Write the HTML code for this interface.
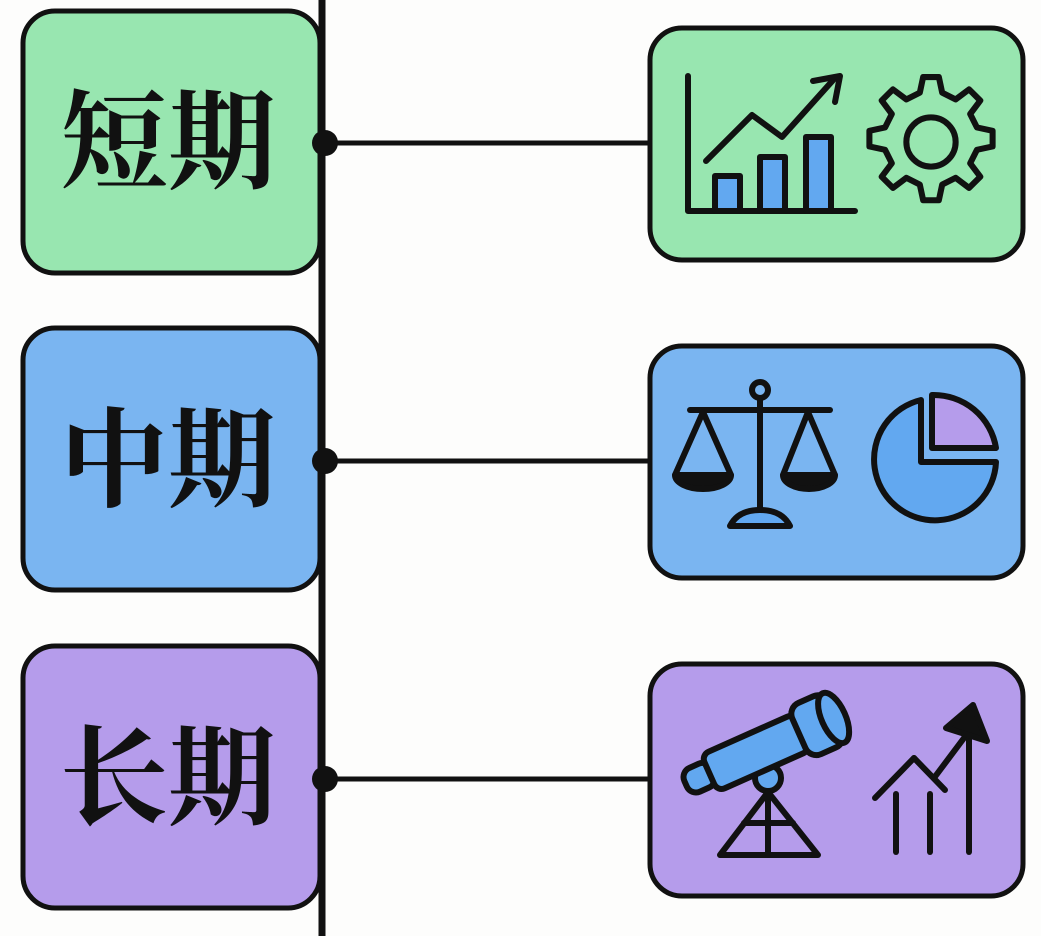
<!DOCTYPE html>
<html><head><meta charset="utf-8"><style>
html,body{margin:0;padding:0;background:#fdfdfc;}
svg{display:block}
</style></head><body>
<svg width="1041" height="936" viewBox="0 0 1041 936" xmlns="http://www.w3.org/2000/svg">
<g stroke="#111" stroke-width="5">
<rect x="23" y="11" width="297" height="262" rx="32" fill="#98e6b0"/>
<rect x="23" y="328" width="297" height="262" rx="32" fill="#7ab5f1"/>
<rect x="23" y="646" width="297" height="262" rx="32" fill="#b59ceb"/>
<rect x="650" y="28" width="373" height="232" rx="32" fill="#98e6b0"/>
<rect x="650" y="346" width="373" height="232" rx="32" fill="#7ab5f1"/>
<rect x="650" y="664" width="373" height="232" rx="32" fill="#b59ceb"/>
</g>
<line x1="322" y1="0" x2="322" y2="936" stroke="#111" stroke-width="7"/>
<g stroke="#111" stroke-width="5">
<line x1="325" y1="143" x2="650" y2="143"/>
<line x1="325" y1="461" x2="650" y2="461"/>
<line x1="325" y1="779" x2="650" y2="779"/>
</g>
<g fill="#111">
<circle cx="325" cy="143" r="13"/><circle cx="325" cy="461" r="13"/><circle cx="325" cy="779" r="13"/>
</g>
<g font-family="Liberation Serif, Noto Serif CJK SC, serif" font-weight="700" font-size="108" fill="#111" text-anchor="middle">
<text x="168" y="180">短期</text>
<text x="168" y="498">中期</text>
<text x="168" y="816">长期</text>
</g>
<!-- icon 1 -->
<g stroke="#111" stroke-width="6" stroke-linecap="round" stroke-linejoin="round" fill="none">
<polyline points="688,76 688,211 855,211"/>
<rect x="715" y="176" width="25" height="35" fill="#62a8f0"/>
<rect x="760" y="157" width="25" height="54" fill="#62a8f0"/>
<rect x="806" y="137" width="25" height="74" fill="#62a8f0"/>
<polyline points="706,161 752,115 782,137 835,78"/>
<polyline points="813,81 840,76 835,102"/>
<g transform="translate(931 142) scale(1.12) translate(-931 -142)">
<path d="M924,84 h14 l3,14 l12,6 l12,-9 l10,10 l-9,12 l6,12 l14,3 v14 l-14,3 l-6,12 l9,12 l-10,10 l-12,-9 l-12,6 l-3,14 h-14 l-3,-14 l-12,-6 l-12,9 l-10,-10 l9,-12 l-6,-12 l-14,-3 v-14 l14,-3 l6,-12 l-9,-12 l10,-10 l12,9 l12,-6 z" stroke-width="5.4"/>
<circle cx="931" cy="142" r="22" stroke-width="5.4"/>
</g>
</g>
<!-- icon 2 -->
<g stroke="#111" stroke-width="6" stroke-linecap="round" stroke-linejoin="round" fill="none">
<line x1="690" y1="410" x2="830" y2="410"/>
<line x1="760" y1="398" x2="760" y2="510"/>
<circle cx="760" cy="390" r="8"/>
<polyline points="675,475 703,412 731,475"/>
<polyline points="783,475 808,412 835,475"/>
<path d="M675,475 h56 a28,14 0 0 1 -56,0z" fill="#111"/>
<path d="M783,475 h52 a26,14 0 0 1 -52,0z" fill="#111"/>
<path d="M730,526 q8,-16 30,-16 q22,0 30,16z" fill="#62a8f0"/>
<path d="M921,400 a61,61 0 1 0 75,62 h-75z" fill="#62a8f0"/>
<path d="M932,395 a63,63 0 0 1 64,53 h-64z" fill="#b59ceb"/>
</g>
<!-- icon 3 -->
<g stroke="#111" stroke-width="6" stroke-linecap="round" stroke-linejoin="round" fill="none">
<circle cx="768" cy="778" r="13" fill="#62a8f0"/>
<polygon points="768,792 720,855 818,855"/>
<line x1="768" y1="792" x2="768" y2="855"/>
<line x1="744" y1="823" x2="793" y2="823"/>
<g transform="translate(766 748) rotate(-24)">
<rect x="-88" y="-13" width="30" height="26" rx="10" fill="#62a8f0"/>
<rect x="-62" y="-20" width="102" height="40" rx="8" fill="#62a8f0"/>
<rect x="36" y="-28" width="40" height="56" rx="12" fill="#62a8f0"/>
<ellipse cx="74" cy="0" rx="12" ry="27" fill="#62a8f0"/>
</g>
<line x1="875" y1="798" x2="914" y2="758" />
<line x1="914" y1="758" x2="945" y2="790"/>
<line x1="934" y1="778" x2="970" y2="730"/>
<line x1="896" y1="794" x2="896" y2="852"/>
<line x1="930" y1="794" x2="930" y2="852"/>
<line x1="969" y1="735" x2="969" y2="852"/>
<polygon points="946,728 973,705 987,741" fill="#111"/>
</g>
</svg>
</body></html>
